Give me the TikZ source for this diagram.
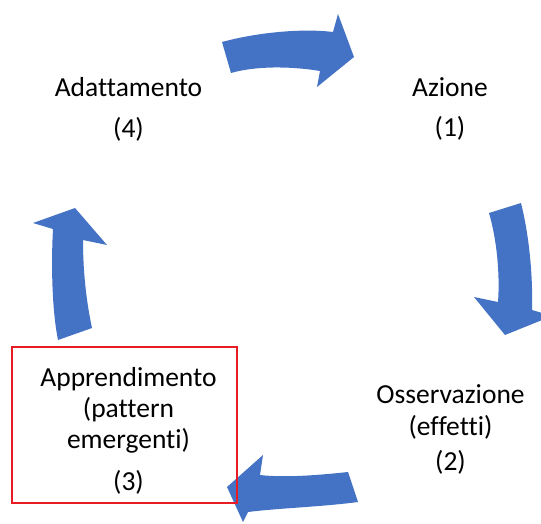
\documentclass[tikz,border=0pt]{standalone}
\usepackage{fontspec}
\setmainfont[Ligatures=NoCommon]{Carlito}
\definecolor{cycleblue}{HTML}{4472C4}
\definecolor{framered}{RGB}{232,28,36}
\tikzset{
  label/.style={align=center, anchor=base, text=black,
    font=\fontsize{27.5}{31}\selectfont, inner sep=0pt},
  cyclearrow/.style={fill=cycleblue, draw=none},
  frame/.style={draw=framered, line width=1.9pt}
}
\begin{document}
\begin{tikzpicture}[x=1pt,y=-1pt]
  \clip (0,0) rectangle (541,524);
  \fill[white] (0,0) rectangle (541,524);

  % curved block arrows of the cycle
  \fill[cyclearrow] (222,42) .. controls (255,33) and (300,28) .. (333,32)
    -- (338,14) -- (354,57) -- (317,87) -- (320,71)
    .. controls (290,66) and (255,66) .. (231,73) -- cycle;
  \fill[cyclearrow] (489,213) -- (521,203) .. controls (529,235) and (533,275) .. (532,310)
    -- (552,316) -- (505,335) -- (474,297) -- (498,302)
    .. controls (500,275) and (497,240) .. (489,213) -- cycle;
  \fill[cyclearrow] (348,472) .. controls (320,475) and (285,478) .. (260,475)
    -- (263,455) -- (227,487) -- (243,522) -- (248,512)
    .. controls (280,508) and (320,507) .. (358,502) -- cycle;
  \fill[cyclearrow] (58,340) .. controls (52,310) and (51,265) .. (53,229)
    -- (33,223) -- (75,208) -- (107,245) -- (83,240)
    .. controls (83,265) and (85,295) .. (92,328) -- cycle;

  % stage labels (anchored at the baseline of the last line)
  \node[label] (azione) at (450,137) {Azione\\[9pt](1)};
  \node[label] (osservazione) at (450.5,470) {Osservazione\\[1pt](effetti)\\[4pt](2)};
  \node[label] (apprendimento) at (128.5,490) {Apprendimento\\(pattern\\emergenti)\\[11pt](3)};
  \node[label] (adattamento) at (128.5,138) {Adattamento\\[10pt](4)};

  % highlight frame
  \draw[frame] (12,347) rectangle (237,503);
\end{tikzpicture}
\end{document}
